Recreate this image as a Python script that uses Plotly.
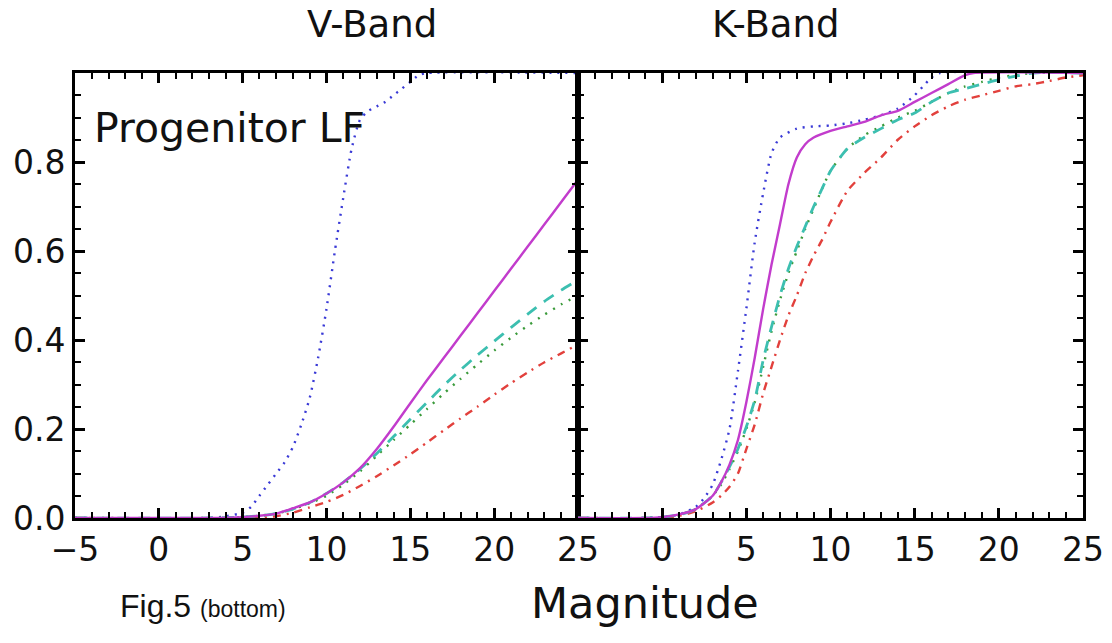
import plotly.graph_objects as go

# ---------------- data ----------------
# V-band (left panel)
v_blue_x = [-5, 3, 4, 5, 5.5, 6, 6.5, 7, 7.5, 8, 8.5, 9, 9.5, 10, 10.5, 11, 11.5, 12, 12.5, 13, 13.5, 14, 14.5, 15, 15.5, 16, 25]
v_blue_y = [0, 0, 0.004, 0.012, 0.025, 0.05, 0.075, 0.1, 0.125, 0.16, 0.21, 0.27, 0.36, 0.47, 0.6, 0.72, 0.83, 0.895, 0.915, 0.925, 0.935, 0.95, 0.965, 0.98, 0.995, 1.0, 1.0]

v_mag_x = [-5, 3, 5, 6, 7, 8, 9, 10, 11, 12, 13, 14, 15, 16, 17, 18, 19, 20, 21, 22, 23, 24, 25]
v_mag_y = [0, 0, 0.002, 0.005, 0.01, 0.022, 0.035, 0.055, 0.08, 0.112, 0.155, 0.205, 0.258, 0.31, 0.36, 0.41, 0.46, 0.51, 0.56, 0.61, 0.66, 0.71, 0.76]

v_cyan_x = [-5, 3, 5, 6, 7, 8, 9, 10, 11, 12, 13, 14, 15, 16, 17, 18, 19, 20, 21, 22, 23, 24, 25]
v_cyan_y = [0, 0, 0.002, 0.005, 0.01, 0.02, 0.035, 0.055, 0.08, 0.11, 0.145, 0.183, 0.222, 0.26, 0.298, 0.333, 0.366, 0.397, 0.428, 0.458, 0.487, 0.512, 0.535]

v_green_x = [-5, 3, 5, 6, 7, 8, 9, 10, 11, 12, 13, 14, 15, 16, 17, 18, 19, 20, 21, 22, 23, 24, 25]
v_green_y = [0, 0, 0.002, 0.005, 0.01, 0.02, 0.033, 0.05, 0.075, 0.105, 0.14, 0.175, 0.21, 0.245, 0.28, 0.313, 0.345, 0.376, 0.405, 0.432, 0.457, 0.48, 0.5]

v_red_x = [-5, 6, 7, 8, 9, 10, 11, 12, 13, 14, 15, 16, 17, 18, 19, 20, 21, 22, 23, 24, 25]
v_red_y = [0, 0, 0.004, 0.012, 0.024, 0.036, 0.052, 0.072, 0.094, 0.118, 0.143, 0.17, 0.197, 0.224, 0.25, 0.277, 0.303, 0.327, 0.35, 0.37, 0.39]

# K-band (right panel)
k_blue_x = [-5, -1, 0, 1, 2, 2.5, 3, 3.5, 4, 4.5, 5, 5.5, 6, 6.5, 7, 8, 9, 10, 11, 12, 13, 14, 15, 15.5, 16, 16.5, 25]
k_blue_y = [0, 0, 0.002, 0.008, 0.025, 0.045, 0.075, 0.13, 0.2, 0.33, 0.47, 0.62, 0.73, 0.82, 0.855, 0.875, 0.88, 0.882, 0.887, 0.895, 0.905, 0.92, 0.95, 0.97, 0.99, 1.0, 1.0]

k_mag_x = [-5, -1, 0, 1, 2, 3, 3.5, 4, 4.5, 5, 5.5, 6, 6.5, 7, 7.5, 8, 8.5, 9, 10, 11, 12, 13, 14, 15, 16, 17, 18, 18.5, 25]
k_mag_y = [0, 0, 0.002, 0.008, 0.02, 0.05, 0.08, 0.12, 0.175, 0.26, 0.36, 0.47, 0.57, 0.66, 0.75, 0.81, 0.84, 0.855, 0.87, 0.88, 0.89, 0.905, 0.915, 0.935, 0.955, 0.975, 0.995, 1.0, 1.0]

k_cyan_x = [-5, -1, 0, 1, 2, 3, 3.5, 4, 4.5, 5, 5.5, 6, 6.5, 7, 7.5, 8, 8.5, 9, 9.5, 10, 11, 12, 13, 14, 15, 16, 17, 18, 19, 20, 21, 22, 25]
k_cyan_y = [0, 0, 0.002, 0.007, 0.02, 0.05, 0.08, 0.115, 0.155, 0.205, 0.265, 0.355, 0.43, 0.5, 0.56, 0.61, 0.655, 0.7, 0.74, 0.78, 0.83, 0.855, 0.875, 0.895, 0.91, 0.935, 0.955, 0.965, 0.975, 0.985, 0.993, 1.0, 1.0]

k_green_x = [-5, -1, 0, 1, 2, 3, 3.5, 4, 4.5, 5, 5.5, 6, 6.5, 7, 7.5, 8, 8.5, 9, 9.5, 10, 11, 12, 13, 14, 15, 16, 17, 18, 19, 20, 21, 22, 25]
k_green_y = [0, 0, 0.002, 0.007, 0.02, 0.05, 0.075, 0.11, 0.15, 0.2, 0.26, 0.34, 0.42, 0.49, 0.55, 0.6, 0.65, 0.695, 0.74, 0.78, 0.83, 0.86, 0.88, 0.9, 0.915, 0.935, 0.955, 0.97, 0.98, 0.99, 0.995, 1.0, 1.0]

k_red_x = [-5, 0, 1, 2, 3, 3.5, 4, 4.5, 5, 5.5, 6, 6.5, 7, 7.5, 8, 8.5, 9, 9.5, 10, 11, 12, 13, 14, 15, 16, 17, 18, 19, 20, 21, 22, 23, 24, 25]
k_red_y = [0, 0, 0.005, 0.015, 0.035, 0.05, 0.07, 0.1, 0.155, 0.21, 0.28, 0.34, 0.4, 0.455, 0.5, 0.55, 0.59, 0.625, 0.665, 0.735, 0.775, 0.81, 0.85, 0.88, 0.905, 0.925, 0.94, 0.95, 0.96, 0.97, 0.975, 0.982, 0.99, 0.995]

x_ticks_left = [-5, 0, 5, 10, 15, 20, 25]
x_ticks_right = [0, 5, 10, 15, 20, 25]
y_ticks = [0.0, 0.2, 0.4, 0.6, 0.8]

# ---------------- styles ----------------
BLUE = "#3a3ad6"
MAG = "#c23ccc"
CYAN = "#3cbfb0"
GREEN = "#3a9a3a"
RED = "#e2403c"

styles = {
    "blue": dict(color=BLUE, width=2.4, dash="2px,6px"),
    "mag": dict(color=MAG, width=2.4, dash="solid"),
    "cyan": dict(color=CYAN, width=2.8, dash="12px,9px"),
    "green": dict(color=GREEN, width=2.4, dash="2px,7px"),
    "red": dict(color=RED, width=2.4, dash="8px,6px,2px,6px"),
}

fig = go.Figure()

left = [("blue", v_blue_x, v_blue_y), ("red", v_red_x, v_red_y), ("green", v_green_x, v_green_y),
        ("cyan", v_cyan_x, v_cyan_y), ("mag", v_mag_x, v_mag_y)]
right = [("blue", k_blue_x, k_blue_y), ("red", k_red_x, k_red_y), ("green", k_green_x, k_green_y),
         ("cyan", k_cyan_x, k_cyan_y), ("mag", k_mag_x, k_mag_y)]

for name, xs, ys in left:
    fig.add_trace(go.Scatter(x=xs, y=ys, mode="lines", line=dict(shape="spline", smoothing=0.6, **styles[name]),
                             xaxis="x", yaxis="y", showlegend=False, hoverinfo="skip"))
for name, xs, ys in right:
    fig.add_trace(go.Scatter(x=xs, y=ys, mode="lines", line=dict(shape="spline", smoothing=0.6, **styles[name]),
                             xaxis="x2", yaxis="y2", showlegend=False, hoverinfo="skip"))

W, H = 1112, 643
def px(x):
    return x / W
def py(y):
    return 1 - y / H

X0, XM, X1 = 75, 578, 1083
YT, YB = 73, 518

tickfont = dict(family="DejaVu Sans", size=33, color="#111")
common_x = dict(range=[-5, 25], showgrid=False, zeroline=False, showline=True, linewidth=3, linecolor="black",
                mirror="allticks", ticks="inside", ticklen=10, tickwidth=2.5, tickcolor="black",
                minor=dict(tick0=0, dtick=1, ticks="inside", ticklen=6, tickwidth=2, tickcolor="black"),
                tickfont=tickfont, automargin=False)
common_y = dict(range=[0, 1], showgrid=False, zeroline=False, showline=True, linewidth=3, linecolor="black",
                mirror="allticks", ticks="inside", ticklen=10, tickwidth=2.5, tickcolor="black",
                minor=dict(tick0=0, dtick=0.05, ticks="inside", ticklen=6, tickwidth=2, tickcolor="black"),
                tickfont=tickfont, automargin=False)

fig.update_layout(
    width=W, height=H, autosize=False,
    margin=dict(l=0, r=0, t=0, b=0, autoexpand=False),
    paper_bgcolor="white", plot_bgcolor="white",
    xaxis=dict(domain=[px(X0), px(XM)], anchor="y", tickvals=x_ticks_left,
               ticktext=["\u22125" if v < 0 else str(v) for v in x_ticks_left], **common_x),
    xaxis2=dict(domain=[px(XM), px(X1)], anchor="y2", tickvals=x_ticks_right,
                ticktext=[str(v) for v in x_ticks_right], **common_x),
    yaxis=dict(domain=[py(YB), py(YT)], anchor="x", tickvals=y_ticks,
               ticktext=[f"{v:.1f}" for v in y_ticks], **common_y),
    yaxis2=dict(domain=[py(YB), py(YT)], anchor="x2", tickvals=y_ticks, showticklabels=False, **common_y),
)

ann = [
    dict(text="V-Band", x=px(372), y=py(24), font=dict(family="DejaVu Sans", size=37, color="#111"),
         xanchor="center", yanchor="middle"),
    dict(text="K-Band", x=px(775), y=py(24), font=dict(family="DejaVu Sans", size=37, color="#111"),
         xanchor="center", yanchor="middle"),
    dict(text="Progenitor LF", x=px(92), y=py(128), font=dict(family="DejaVu Sans", size=41, color="#111"),
         xanchor="left", yanchor="middle"),
    dict(text="Magnitude", x=px(645), y=py(603), font=dict(family="DejaVu Sans", size=43, color="#111"),
         xanchor="center", yanchor="middle"),
    dict(text="Fig.5 <span style='font-size:23px'>(bottom)</span>", x=px(118), y=py(606),
         font=dict(family="Liberation Sans Narrow, Liberation Sans", size=32, color="#111"),
         xanchor="left", yanchor="middle"),
]
for a in ann:
    fig.add_annotation(xref="paper", yref="paper", showarrow=False, **a)

fig.write_html("out.html", config={"displayModeBar": False},
               post_script="document.body.style.margin='0px';")
